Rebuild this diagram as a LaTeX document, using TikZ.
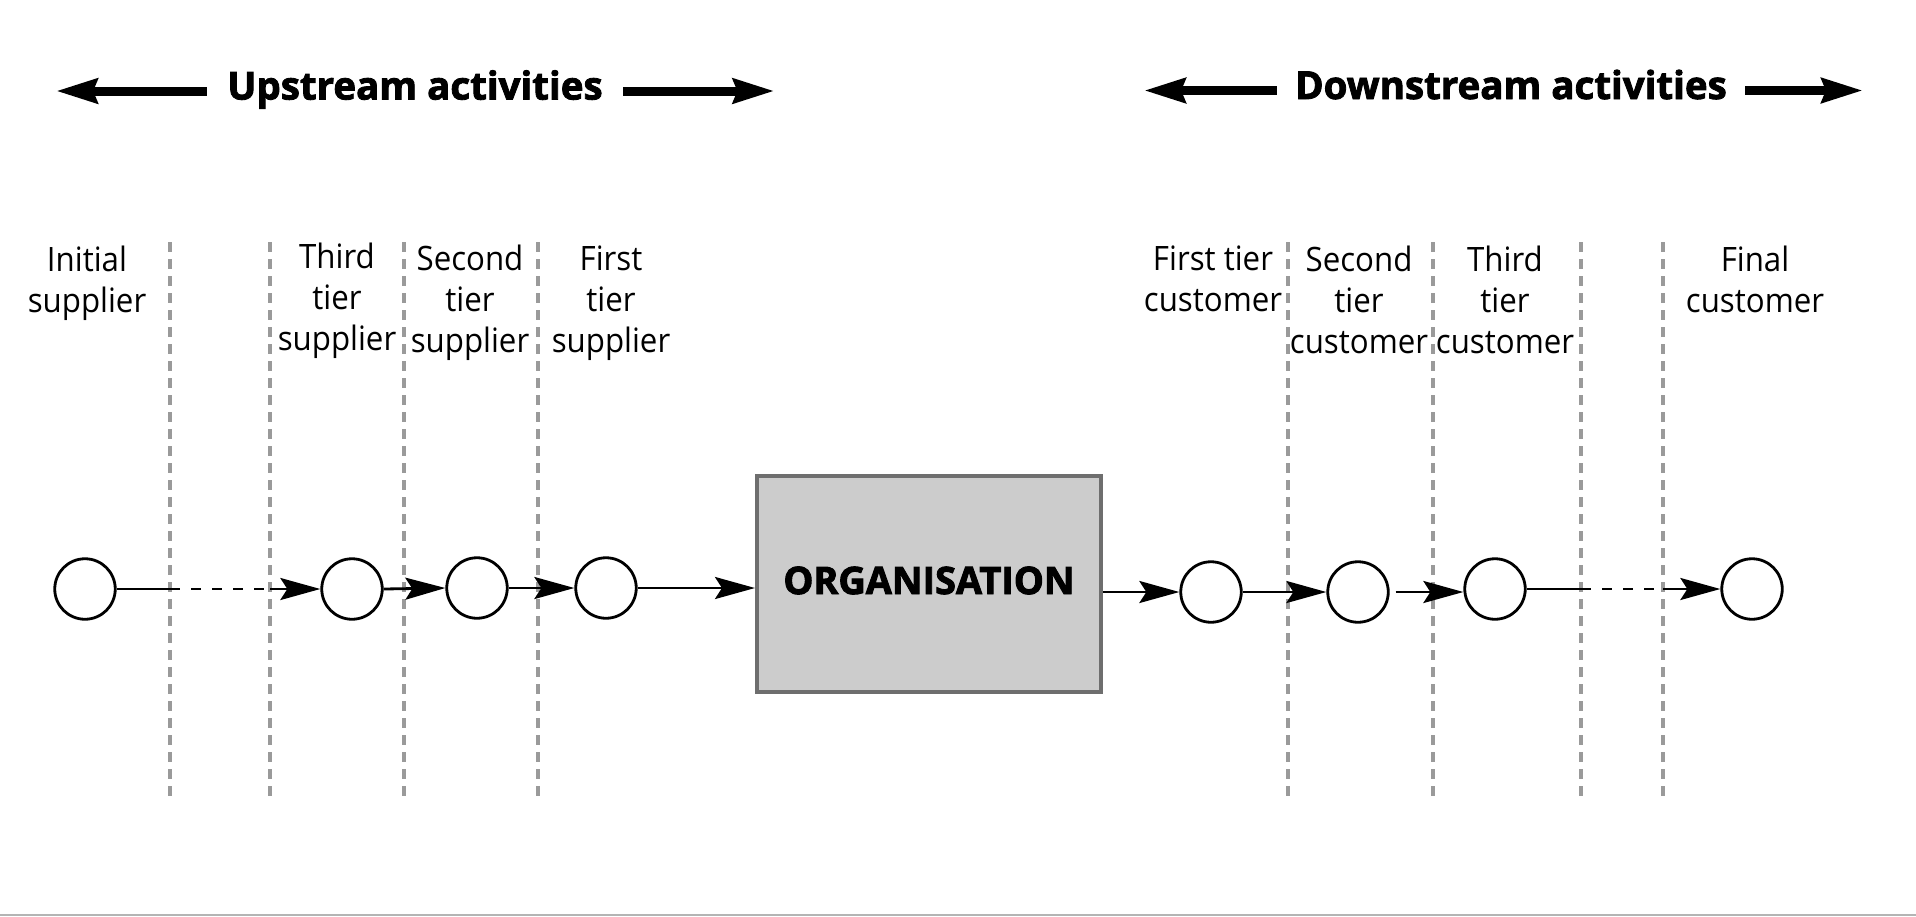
\documentclass[tikz,border=0pt]{standalone}
\usepackage{fontspec}
\setmainfont[FakeStretch=0.93]{Open Sans}
\newfontfamily\headfont[FakeStretch=1.0,FakeBold=2.2]{Open Sans}
\newfontfamily\orgfont[FakeBold=2.5]{Open Sans}
\usetikzlibrary{arrows.meta}
\definecolor{dashgray}{HTML}{9A9A9A}
\definecolor{boxfill}{HTML}{CCCCCC}
\definecolor{boxline}{HTML}{6E6E6E}
\definecolor{edgegray}{HTML}{B4B4B4}
\tikzset{
  lab/.style={align=center, anchor=north, inner sep=0pt,
    font=\fontsize{33.6}{41}\selectfont, execute at begin node=\strut},
  circ/.style={circle, draw=black, line width=2.8pt, minimum size=60.5pt, inner sep=0pt, fill=white},
  orgbox/.style={rectangle, draw=boxline, fill=boxfill, line width=4pt,
    minimum width=344pt, minimum height=216pt, inner sep=0pt,
    font=\orgfont\bfseries\fontsize{37.8}{45}\selectfont, text height=27pt, text depth=7pt},
  head/.style={inner sep=0pt, font=\headfont\bfseries\fontsize{38.5}{46}\selectfont,
    text height=27pt, text depth=10pt},
  bigarrow/.style={line width=9pt, -{Stealth[length=41pt,width=24pt,inset=4pt]}},
  conn/.style={line width=2.8pt, -{Stealth[length=40pt,width=22pt,inset=7pt]}},
  plain/.style={line width=2.8pt},
  dashconn/.style={line width=2.8pt, dash pattern=on 10pt off 11pt},
  vdash/.style={draw=dashgray, line width=3.5pt, dash pattern=on 10pt off 7pt}
}
\begin{document}
\begin{tikzpicture}[x=1pt,y=-1pt]
\useasboundingbox (0,0) rectangle (1916,916);
\fill[white] (0,0) rectangle (1916,916);
\draw[edgegray, line width=2pt] (0,915) -- (1916,915);

% headings
\node[head] (up) at (415,91) {Upstream activities};
\coordinate (upL) at (56,91);
\coordinate (upR) at (774.5,91);
\draw[bigarrow] ([xshift=-20.5pt]up.west) -- (upL);
\draw[bigarrow] ([xshift=20.5pt]up.east) -- (upR);

\node[head] (down) at (1511,90.5) {Downstream activities};
\coordinate (downL) at (1144,90.5);
\coordinate (downR) at (1863,90.5);
\draw[bigarrow] ([xshift=-18pt]down.west) -- (downL);
\draw[bigarrow] ([xshift=18pt]down.east) -- (downR);

% vertical dashed dividers
\foreach \n/\x in {1/170,2/270,3/404,4/538,5/1288,6/1433,7/1581,8/1663}{
  \coordinate (v\n t) at (\x,242);
  \coordinate (v\n b) at (\x,800);
  \draw[vdash] (v\n t) -- (v\n b);
}

% labels
\node[lab] (l1) at (87,246) {Initial\\supplier};
\node[lab] (l2) at (337,243) {Third\\tier\\supplier};
\node[lab] (l3) at (470,245) {Second\\tier\\supplier};
\node[lab] (l4) at (611,246) {First\\tier\\supplier};
\node[lab] (l5) at (1213,246) {First tier\\customer};
\node[lab] (l6) at (1359,246) {Second\\tier\\customer};
\node[lab] (l7) at (1505,246) {Third\\tier\\customer};
\node[lab] (l8) at (1755,246) {Final\\customer};

% organisation box
\node[orgbox] (box) at (929,584) {ORGANISATION};

% circles
\node[circ] (c1) at (85,589) {};
\node[circ] (c2) at (352,589) {};
\node[circ] (c3) at (477,588) {};
\node[circ] (c4) at (606,588) {};
\node[circ] (c5) at (1211,592) {};
\node[circ] (c6) at (1358,592) {};
\node[circ] (c7) at (1495,589) {};
\node[circ] (c8) at (1752,589) {};

% connectors
\draw[plain] (c1.east) -- (c1.east -| v1t);
\draw[dashconn] (c1.east -| v1t) -- (c1.east -| v2t);
\draw[conn] (c1.east -| v2t) -- (c2.west);
\draw[conn] (c2.east) -- (c3.west);
\draw[conn] (c3.east) -- (c4.west);
\draw[conn] (c4.east) -- (c4.east -| box.west);
\draw[conn] (c5.west -| box.east) -- (c5.west);
\draw[conn] (c5.east) -- (c6.west);
\draw[conn] ([xshift=6pt]c6.east) -- (c6.east -| c7.west);
\draw[plain] (c7.east) -- (c7.east -| v7t);
\draw[dashconn] (c7.east -| v7t) -- (c7.east -| v8t);
\draw[conn] (c7.east -| v8t) -- (c8.west);
\end{tikzpicture}
\end{document}
